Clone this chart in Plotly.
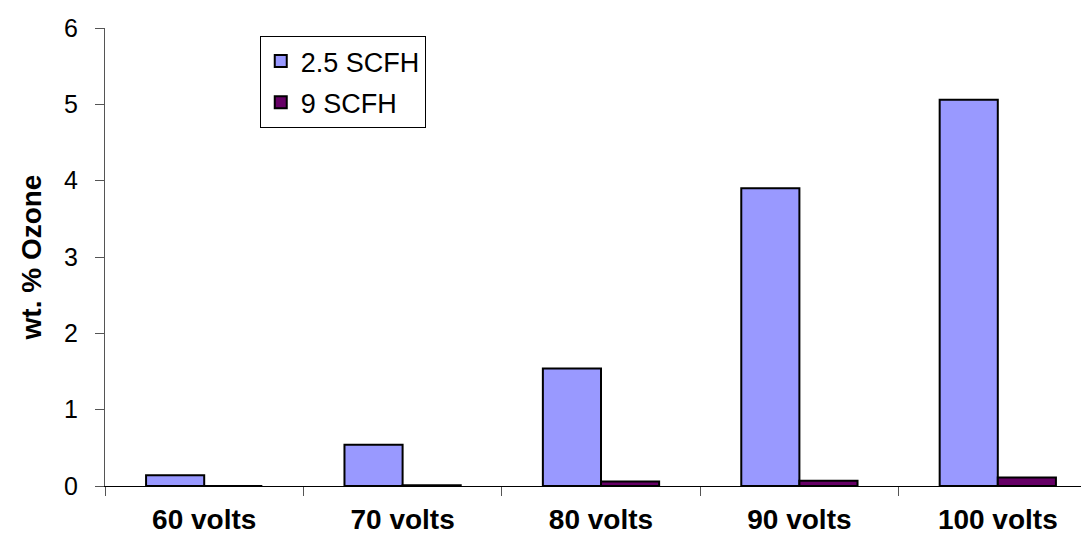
import plotly.graph_objects as go

categories = ["60 volts", "70 volts", "80 volts", "90 volts", "100 volts"]
scfh_25 = [0.14, 0.54, 1.54, 3.90, 5.06]
scfh_9 = [0.0, 0.01, 0.06, 0.07, 0.11]

FONT = "Arial, 'Liberation Sans', sans-serif"

fig = go.Figure()
fig.add_trace(
    go.Bar(
        x=categories,
        y=scfh_25,
        name="2.5 SCFH",
        legendgroup="a",
        marker=dict(color="#9999FF", line=dict(color="black", width=2)),
    )
)
fig.add_trace(
    go.Bar(
        x=categories,
        y=scfh_9,
        name="9 SCFH",
        legendgroup="b",
        marker=dict(color="#660066", line=dict(color="black", width=2)),
    )
)

fig.update_layout(
    width=1089,
    height=542,
    margin=dict(l=97, r=0, t=20, b=64),
    plot_bgcolor="white",
    paper_bgcolor="white",
    font=dict(family=FONT, size=25, color="black"),
    barmode="group",
    bargap=0.414,
    bargroupgap=0,
    legend=dict(
        x=0.156,
        y=0.9825,
        xanchor="left",
        yanchor="top",
        bordercolor="black",
        borderwidth=1,
        bgcolor="white",
        font=dict(size=27),
        tracegroupgap=3,
        traceorder="grouped",
    ),
)
fig.update_xaxes(
    showline=True,
    linecolor="black",
    linewidth=1,
    ticks="outside",
    tickson="boundaries",
    ticklen=9,
    tickcolor="#555555",
    ticklabelstandoff=8,
    tickfont=dict(size=28, family=FONT, weight="bold"),
    showgrid=False,
    automargin=False,
)
fig.update_yaxes(
    range=[0, 6],
    dtick=1,
    showline=True,
    linecolor="#555555",
    linewidth=1,
    ticks="outside",
    ticklen=9,
    tickcolor="#555555",
    ticklabelstandoff=12,
    tickfont=dict(size=25),
    showgrid=False,
    zeroline=False,
    automargin=False,
    title=dict(text="<b>wt. % Ozone</b>", font=dict(size=28), standoff=14),
)

fig.write_html("out.html")
